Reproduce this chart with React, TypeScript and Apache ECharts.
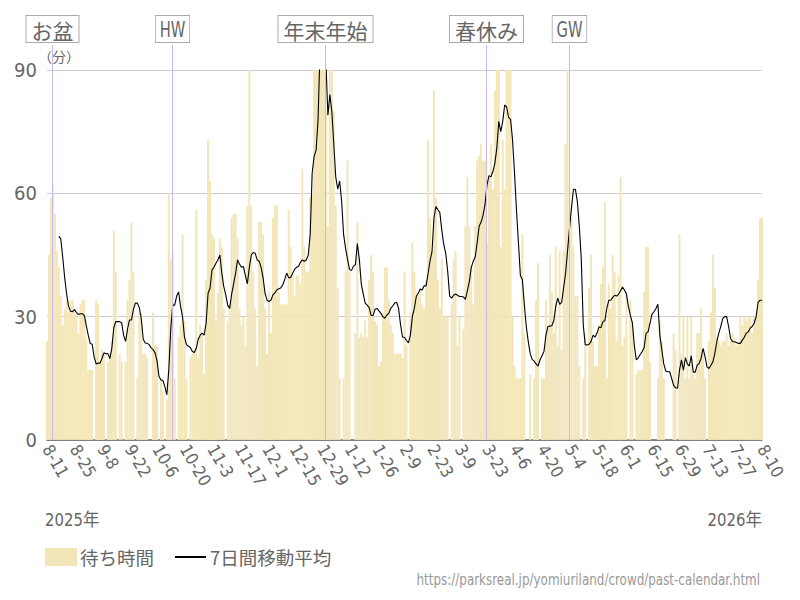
import React, { useEffect, useRef } from "react";
import * as echarts from "echarts";

// ---- data ----
const startDate = { year: 2025, month: 8, day: 11 }; // first category, daily
// daily waiting time (minutes); null = no data (closed)
const waitTimes: (number | null)[] = [
  24, 45, 59, 62, 55, 46, 42, 35, 28, 32, 34, 31, 34, 34,
  32, 30, 26, 33, 34, 34, 25, 17, 17, 17, null, 34, 33, 19,
  22, 21, null, 19, 21, 24, 51, 41, null, 21, 19, null, 19, 34,
  39, 53, 41, null, 15, 31, 31, 21, 21, 20, null, null, 31, 23,
  23, null, 15, 12, null, 10, 60, 44, 46, 15, null, 25, 28, 50,
  29, 15, null, 20, 21, 22, 56, 20, 28, 26, 16, 39, 73, 63,
  50, 49, 29, 36, 49, 47, 32, null, 29, 33, 54, 55, 55, 49,
  32, 28, 30, 23, 57, 90, 57, 41, 32, 18, 53, 53, 50, 32,
  21, 36, 26, 54, 57, 57, 36, 33, 33, 33, 33, 56, 47, 40,
  35, 40, 40, 38, 66, 47, 41, 41, 59, 60, 90, 90, 90, 90,
  90, 90, 80, 52, 90, 90, 80, 57, 37, 15, null, 15, 41, 68,
  41, null, null, 26, 53, 25, 26, 25, 29, 25, 39, 45, 41, 29,
  28, 18, 19, 31, 42, 42, 34, 28, 26, 21, 21, 21, 21, 20,
  41, 23, null, 31, 48, 41, 36, 35, 37, 33, 32, 39, 73, 54,
  46, 85, 59, 39, 32, 44, 30, 30, 30, null, 33, 44, 46, 23,
  30, null, 27, 52, 64, 52, 42, 33, 52, 68, 69, 72, 68, 68,
  48, 64, 72, 61, 85, 90, 90, 47, 73, 61, 90, 90, 90, 30,
  18, 15, 15, 15, 50, 26, null, null, 16, null, 15, 34, 43, null,
  15, 15, 34, 27, 45, 36, 26, 47, 23, 46, 22, 46, 72, 90,
  62, 54, 47, 35, 35, 18, null, 15, 26, null, 37, 45, 24, 18,
  18, 28, 38, 42, 58, 15, 38, 32, 45, 41, 24, 40, 64, 23,
  25, 36, null, 34, 29, null, 16, 17, 17, 17, 36, 47, 47, 19,
  null, null, null, 15, 29, 24, 15, null, null, null, null, 26, 22, null,
  50, 21, 30, 15, 30, 15, 30, 16, 15, 26, 26, 32, 21, 15,
  null, 24, 31, 45, 37, 25, 24, 23, 24, 24, 26, 23, 24, 26,
  25, 23, 24, 30, 28, 30, 29, 30, 30, 26, 30, 30, 39, 54,
  54,
];
// 7-day moving average line as drawn in the reference
const movingAvg: (number | null)[] = [
  null, null, null, null, null, null, 49.5, 49, 44.5, 39.5, 35.5, 32.5, 31.3, 31.2,
  31.7, 31, 30.5, 30.7, 30.7, 30.3, 27.8, 25.5, 23.5, 23.3, 20.2, 18.5, 18.7, 18.7,
  19.9, 21.2, 21, 21, 19.8, 22.3, 27.3, 28.8, 28.8, 28.8, 28.5, 25.5, 24, 27,
  29.2, 29.2, 31.8, 33.3, 33.3, 32.2, 29.5, 24.5, 23.6, 23.5, 23.2, 22.4, 22, 21.2,
  19.3, 15.5, 14.6, 14.5, 13, 11, 17, 27, 32.8, 32.8, 35, 36, 32.5, 30,
  25, 23.2, 22.8, 22.5, 21.5, 21.3, 22.3, 24.5, 25.5, 26, 25.5, 28.4, 35.7, 36.9,
  41.4, 42, 43, 43.8, 45, 40.6, 37.3, 35.3, 32.8, 32, 35.5, 38, 40.5, 43.8,
  42.8, 42, 42.2, 40, 38, 42, 45, 45.6, 45.4, 43.8, 43.5, 42, 39.5, 35.7,
  34, 33.7, 34, 35.3, 35.8, 36.5, 36.8, 37, 37.7, 39, 40.6, 39.5, 39.5, 40.5,
  41.5, 42, 42.2, 43.2, 43.8, 43.5, 43.8, 45, 50, 65, 69, 70.5, 78, 95,
  100, 98, 92, 79, 84, 80, 72, 64, 61, 63, 58, 50, 46.6, 44,
  41.5, 41.2, 42.3, 42.6, 47.8, 44, 38, 35.5, 33.3, 32.8, 32.2, 30.3, 30.3, 31.8,
  32, 31.4, 30.8, 30, 29.6, 30.4, 30.8, 32, 32.6, 33.3, 33.5, 32, 28, 25,
  25, 24.2, 23.6, 25.5, 30, 32, 34.9, 35.7, 36.7, 36.5, 37.5, 37.5, 40.5, 43.6,
  45.8, 54, 56.8, 56, 55.3, 51, 47.5, 45.4, 41, 35, 34.5, 35.2, 35.5, 35.2,
  34.9, 34.9, 34.8, 34.2, 36.3, 38.5, 42, 43.5, 44.5, 48, 52, 53, 54.7, 57.3,
  62, 64.3, 64, 65.3, 67.3, 71, 77.5, 75, 77.5, 81.5, 81, 78.5, 78, 73,
  65, 56, 48, 40, 39, 33, 27.6, 24, 21, 19.6, 19.2, 18.5, 18, 19.5,
  20.5, 21.5, 25.5, 27.6, 27.7, 27.8, 29, 32.5, 34.5, 33, 33.5, 37, 40.5, 46,
  51.5, 56.4, 61, 61, 58, 52, 44, 28, 23.2, 23.1, 23.3, 24, 25.5, 25,
  26, 27.5, 27.3, 28.8, 29, 32, 34, 34, 34.7, 35.2, 35, 35.5, 36.3, 37.2,
  36.5, 35.5, 32.5, 30.3, 28.5, 23, 19.5, 20, 20.8, 21.5, 22.5, 26, 26.3, 28.4,
  30.6, 31.2, 32, 33, 25.5, 22, 18.5, 16.8, 16.6, 16.6, 15, 13.3, 12.7, 12.6,
  17, 19.5, 17, 20, 18.5, 18, 20.5, 16.5, 16.5, 18.2, 18.6, 19.9, 22.3, 20.3,
  17.8, 17.4, 18.2, 19, 21.1, 23.9, 26, 27.6, 29.5, 30, 30, 27.6, 24.7, 23.9,
  23.9, 23.7, 23.5, 23.5, 24.3, 25, 26, 26.3, 27.2, 27.6, 28.4, 30, 33.5, 34,
  34,
];
const events = [
  { label: "お盆", date: "8-14" },
  { label: "HW", date: "10-14" },
  { label: "年末年始", date: "12-31" },
  { label: "春休み", date: "3-23" },
  { label: "GW", date: "5-4" },
];
const yearLabels = ["2025年", "2026年"];
const seriesNames = ["待ち時間", "7日間移動平均"];
const unitLabel = "（分）";
const sourceText = "https://parksreal.jp/yomiuriland/crowd/past-calendar.html";

// categories "M-D", one per day from the start date
const dates: string[] = waitTimes.map((_, i) => {
  const d = new Date(Date.UTC(startDate.year, startDate.month - 1, startDate.day + i));
  return `${d.getUTCMonth() + 1}-${d.getUTCDate()}`;
});

const FONT = "'Liberation Sans Narrow','DejaVu Sans Condensed','Roboto','Noto Sans CJK JP',sans-serif";
const JP = "'Noto Sans CJK JP','Noto Sans',sans-serif";
const BAR_COLOR = "#f2e5b7";

export default function App() {
  const ref = useRef<HTMLDivElement>(null);
  useEffect(() => {
    if (!ref.current) return;
    const chart = echarts.init(ref.current, undefined, { renderer: "svg" });
    const GRID = { left: 47, right: 38, top: 70, bottom: 160 };
    chart.setOption({
      animation: false,
      backgroundColor: "#fff",
      grid: GRID,
      legend: { show: false },
      xAxis: {
        type: "category",
        data: dates,
        boundaryGap: false,
        axisLine: { lineStyle: { color: "#666", width: 1.5 } },
        axisTick: { show: false },
        axisLabel: {
          interval: 13,
          rotate: -60,
          margin: 6,
          fontSize: 17,
          color: "#666",
          fontFamily: FONT,
        },
        splitLine: { show: false },
      },
      yAxis: {
        type: "value",
        min: 0,
        max: 90,
        interval: 30,
        axisLine: { show: false },
        axisTick: { show: false },
        axisLabel: { fontSize: 20, color: "#666", fontFamily: FONT, margin: 10 },
        splitLine: { lineStyle: { color: "#ccc", width: 1 } },
      },
      series: [
        {
          name: seriesNames[0],
          type: "bar",
          data: waitTimes,
          barCategoryGap: "0%",
          barWidth: "100%",
          itemStyle: { color: BAR_COLOR },
          clip: true,
        },
        {
          name: seriesNames[1],
          type: "line",
          data: movingAvg,
          symbol: "none",
          clip: true,
          lineStyle: { color: "#000", width: 1.1 },
          itemStyle: { color: "#000" },
          z: 5,
        },
      ],
    });

    const graphics: any[] = [];
    events.forEach((ev) => {
      const px = chart.convertToPixel({ xAxisIndex: 0 }, ev.date) as number;
      const x = Math.round(px) - 0.5;
      const latin = ev.label === "HW" || ev.label === "GW";
      graphics.push({
        type: "line",
        z: 20,
        shape: { x1: x, y1: 45, x2: x, y2: 440 },
        style: { stroke: "#c8b8f2", lineWidth: 1 },
      });
      graphics.push({
        type: "text",
        z: 21,
        x: x,
        y: 16,
        scaleX: latin ? 0.78 : 1,
        style: {
          text: ev.label,
          fontSize: 21,
          fontFamily: latin ? FONT : JP,
          fill: "#666",
          align: "center",
          verticalAlign: "top",
          backgroundColor: "#fff",
          borderColor: "#aaa",
          borderWidth: 1,
          padding: [3, 5, 2, 5],
        },
      });
    });
    graphics.push({
      type: "text",
      x: 38,
      y: 49,
      style: { text: unitLabel, fontSize: 14, fontFamily: JP, fill: "#666" },
    });
    graphics.push({
      type: "text",
      x: 45,
      y: 511,
      scaleX: 0.92,
      style: { text: yearLabels[0], fontSize: 18, fontFamily: FONT, fill: "#666" },
    });
    graphics.push({
      type: "text",
      x: 762,
      y: 511,
      scaleX: 0.92,
      style: { text: yearLabels[1], fontSize: 18, fontFamily: FONT, fill: "#666", align: "right" },
    });
    graphics.push({
      type: "text",
      x: 760,
      y: 571,
      scaleX: 0.83,
      style: { text: sourceText, fontSize: 16, fontFamily: FONT, fill: "#999", align: "right" },
    });
    // legend (drawn by hand so the line key has no marker)
    graphics.push({
      type: "rect",
      shape: { x: 45, y: 548, width: 32, height: 18 },
      style: { fill: BAR_COLOR },
    });
    graphics.push({
      type: "text",
      x: 80,
      y: 557,
      style: { text: seriesNames[0], fontSize: 18.5, fontFamily: JP, fill: "#666", verticalAlign: "middle" },
    });
    graphics.push({
      type: "line",
      shape: { x1: 175, y1: 557, x2: 206, y2: 557 },
      style: { stroke: "#000", lineWidth: 2 },
    });
    graphics.push({
      type: "text",
      x: 210,
      y: 557,
      style: { text: seriesNames[1], fontSize: 18.5, fontFamily: JP, fill: "#666", verticalAlign: "middle" },
    });
    chart.setOption({ graphic: graphics });

    return () => chart.dispose();
  }, []);
  return (
    <div
      ref={ref}
      style={{ position: "fixed", left: 0, top: 0, width: 800, height: 600 }}
    />
  );
}
